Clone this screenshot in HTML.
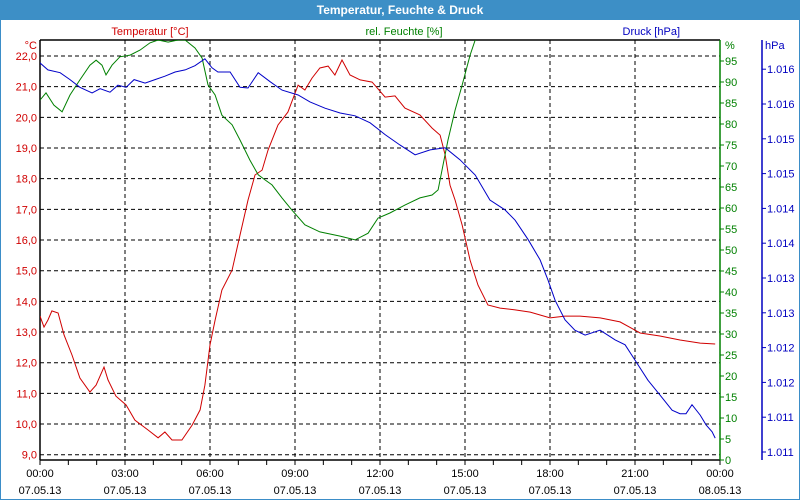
<!DOCTYPE html>
<html><head><meta charset="utf-8"><style>
body{margin:0;background:#fff;}
svg{display:block;font-family:"Liberation Sans",sans-serif;}
</style></head><body>
<svg id="chart" width="800" height="500" viewBox="0 0 800 500">
<rect x="0.5" y="0.5" width="799" height="499" fill="#fff" stroke="#3b8dc8"/>
<rect x="0" y="0" width="800" height="20" fill="#3d8fc6"/>
<text x="400" y="14" text-anchor="middle" fill="#fff" font-weight="bold" font-size="12">Temperatur, Feuchte &amp; Druck</text>
<text x="150" y="35" text-anchor="middle" fill="#d00000" font-size="11">Temperatur [°C]</text>
<text x="404" y="35" text-anchor="middle" fill="#008000" font-size="11">rel. Feuchte [%]</text>
<text x="680" y="35" text-anchor="end" fill="#0000c0" font-size="11">Druck [hPa]</text>
<text x="37" y="49" text-anchor="end" fill="#d00000" font-size="11">°C</text>
<text x="725" y="49" fill="#008000" font-size="11">%</text>
<text x="765" y="49" fill="#0000c0" font-size="11">hPa</text>
<g id="grid"></g>
<g id="axes"></g>
<defs><clipPath id="pc"><rect x="40" y="40" width="680" height="420"/></clipPath></defs>
<g id="series" clip-path="url(#pc)"></g>
</svg>
<script>
const NS="http://www.w3.org/2000/svg";
const tempHours=[0,.14,.28,.42,.64,.85,1.13,1.41,1.76,1.98,2.26,2.40,2.68,3.04,3.35,3.81,4.17,4.41,4.66,5.01,5.37,5.65,5.82,6.00,6.18,6.42,6.78,7.06,7.34,7.59,7.84,8.05,8.40,8.75,9.11,9.35,9.60,9.88,10.17,10.41,10.66,10.94,11.30,11.72,12.18,12.53,12.88,13.41,13.84,14.12,14.30,14.47,14.65,14.90,15.18,15.46,15.81,16.24,16.77,17.30,18.00,18.53,19.06,19.77,20.47,21.18,21.88,22.59,23.30,23.83];
const tempValues=[13.52,13.16,13.39,13.69,13.62,12.90,12.25,11.50,11.04,11.27,11.86,11.44,10.91,10.62,10.13,9.81,9.55,9.74,9.48,9.48,9.97,10.46,11.27,12.58,13.39,14.37,15.02,16.16,17.30,18.12,18.28,18.94,19.75,20.17,21.05,20.89,21.28,21.61,21.67,21.38,21.87,21.38,21.22,21.15,20.66,20.70,20.30,20.08,19.65,19.42,18.77,17.79,17.30,16.48,15.34,14.53,13.88,13.78,13.72,13.65,13.46,13.52,13.52,13.46,13.33,12.97,12.87,12.74,12.64,12.61];
const humHours=[0,.21,.49,.78,1.06,1.41,1.76,1.98,2.19,2.33,2.54,2.82,3.18,3.53,3.88,4.17,4.52,4.87,5.12,5.47,5.72,5.93,6.18,6.42,6.78,7.06,7.41,7.70,7.94,8.19,8.54,8.89,9.35,9.88,10.59,11.12,11.58,11.93,12.35,12.88,13.41,13.84,14.05,14.19,14.40,14.65,14.90,15.18,15.36,15.60];
const humValues=[85.7,87.4,84.5,82.9,86.9,90.5,94.0,95.2,94.0,91.7,94.0,96.0,96.4,97.6,99.3,100,99.5,100,100,98.1,95.7,89.3,86.9,82.1,79.8,76.2,71.4,67.9,66.7,65.5,62.4,59.5,56.0,54.3,53.3,52.4,54.0,57.6,58.8,60.7,62.4,63.1,64.3,69.0,76.2,83.3,89.3,96.4,100,103.6];
const presHours=[0,.28,.71,1.06,1.41,1.84,2.12,2.47,2.75,3.04,3.32,3.71,4.06,4.41,4.77,5.12,5.47,5.82,6.07,6.28,6.71,7.06,7.34,7.70,8.12,8.54,9.11,9.53,10.06,10.59,11.12,11.65,12.18,12.71,13.24,13.77,14.30,14.82,15.36,15.88,16.41,16.77,17.23,17.65,17.93,18.18,18.53,18.88,19.24,19.77,20.30,20.65,21.00,21.46,21.88,22.31,22.59,22.80,23.01,23.30,23.51,23.72,23.83];
const presValues=[1.01609,1.01599,1.01595,1.01585,1.01574,1.01566,1.01572,1.01567,1.01577,1.01574,1.01585,1.01580,1.01585,1.01590,1.01596,1.01599,1.01605,1.01615,1.01602,1.01596,1.01596,1.01574,1.01573,1.01595,1.01582,1.01570,1.01563,1.01553,1.01544,1.01537,1.01533,1.01523,1.01506,1.01491,1.01477,1.01484,1.01487,1.01470,1.01448,1.01412,1.01398,1.01383,1.01355,1.01326,1.01297,1.01268,1.01240,1.01225,1.01218,1.01225,1.01211,1.01204,1.01182,1.01153,1.01132,1.01110,1.01105,1.01105,1.01118,1.01103,1.01089,1.01079,1.01070];
const tempTicks=[9,10,11,12,13,14,15,16,17,18,19,20,21,22];
const humTicks=[0,5,10,15,20,25,30,35,40,45,50,55,60,65,70,75,80,85,90,95];
const presTicks=[1.0105,1.011,1.0115,1.012,1.0125,1.013,1.0135,1.014,1.0145,1.015,1.0155,1.016];
const presTickLabels=["1.011","1.011","1.012","1.012","1.013","1.013","1.014","1.014","1.015","1.015","1.016","1.016"];
const timeLabels=["00:00","03:00","06:00","09:00","12:00","15:00","18:00","21:00","00:00"];
const dateLabels=["07.05.13","07.05.13","07.05.13","07.05.13","07.05.13","07.05.13","07.05.13","07.05.13","08.05.13"];

const X=h=>40+h*(680/24);
const YT=t=>56+(22-t)*30.67;
const YH=v=>460-v*4.2;
const YP=p=>452-(p-1.0105)/0.0005*34.8;

const grid=document.getElementById('grid'),axes=document.getElementById('axes'),series=document.getElementById('series');
function mk(tag,attrs,parent){const e=document.createElementNS(NS,tag);for(const k in attrs)e.setAttribute(k,attrs[k]);parent.appendChild(e);return e;}

tempTicks.forEach(t=>{
  const y=YT(t);
  const l=mk('line',{x1:40,x2:720,y1:y,y2:y,stroke:'#000','stroke-dasharray':'4,3','stroke-width':1},grid);
  
  
  const tx=mk('text',{x:37,y:y+4,'text-anchor':'end',fill:'#d00000','font-size':11},axes);
  tx.textContent=t.toFixed(1).replace('.',',');
  
  
});
timeLabels.forEach((lab,i)=>{
  const x=X(i*3);
  if(i>0&&i<8){const l=mk('line',{x1:x,x2:x,y1:40,y2:460,stroke:'#000','stroke-dasharray':'4,3'},grid);
  
  }
  const t1=mk('text',{x:x,y:477,'text-anchor':'middle',fill:'#000','font-size':11},axes);
  t1.textContent=lab;
  
  
  const t2=mk('text',{x:x,y:494,'text-anchor':'middle',fill:'#000','font-size':11},axes);
  t2.textContent=dateLabels[i];
  
  
});
for(let h=0;h<=24;h++){const x=X(h);const l=mk('line',{x1:x,x2:x,y1:460,y2:465,stroke:'#000'},axes);
  
  }
const frameLines=[[40,40,720,40,'#000'],[40,40,40,460,'#000'],[40,460,720,460,'#000'],[720,40,720,460,'#008000'],[762,40,762,460,'#0000c0']];
frameLines.forEach(f=>{const l=mk('line',{x1:f[0],y1:f[1],x2:f[2],y2:f[3],stroke:f[4],'stroke-width':1.5},axes);
  
  });
humTicks.forEach(v=>{const y=YH(v);
  const l=mk('line',{x1:720,x2:724,y1:y,y2:y,stroke:'#008000'},axes);
  
  
  const t=mk('text',{x:725,y:y+4,fill:'#008000','font-size':11},axes);
  t.textContent=v;
  
  });
presTicks.forEach((p,i)=>{const y=YP(p);
  const l=mk('line',{x1:762,x2:766,y1:y,y2:y,stroke:'#0000c0'},axes);
  
  
  const t=mk('text',{x:767,y:y+4,fill:'#0000c0','font-size':11},axes);
  t.textContent=presTickLabels[i];
  
  });
function line(hs,vs,yf,color){return hs.map((h,i)=>X(h).toFixed(1)+','+yf(vs[i]).toFixed(1)).join(' ');}
const pT=mk('polyline',{points:line(tempHours,tempValues,YT),fill:'none',stroke:'#d00000','stroke-width':1},series);


const pH=mk('polyline',{points:line(humHours,humValues,YH),fill:'none',stroke:'#008000','stroke-width':1},series);


const pP=mk('polyline',{points:line(presHours,presValues,YP),fill:'none',stroke:'#0000c8','stroke-width':1},series);


</script>
</body></html>
